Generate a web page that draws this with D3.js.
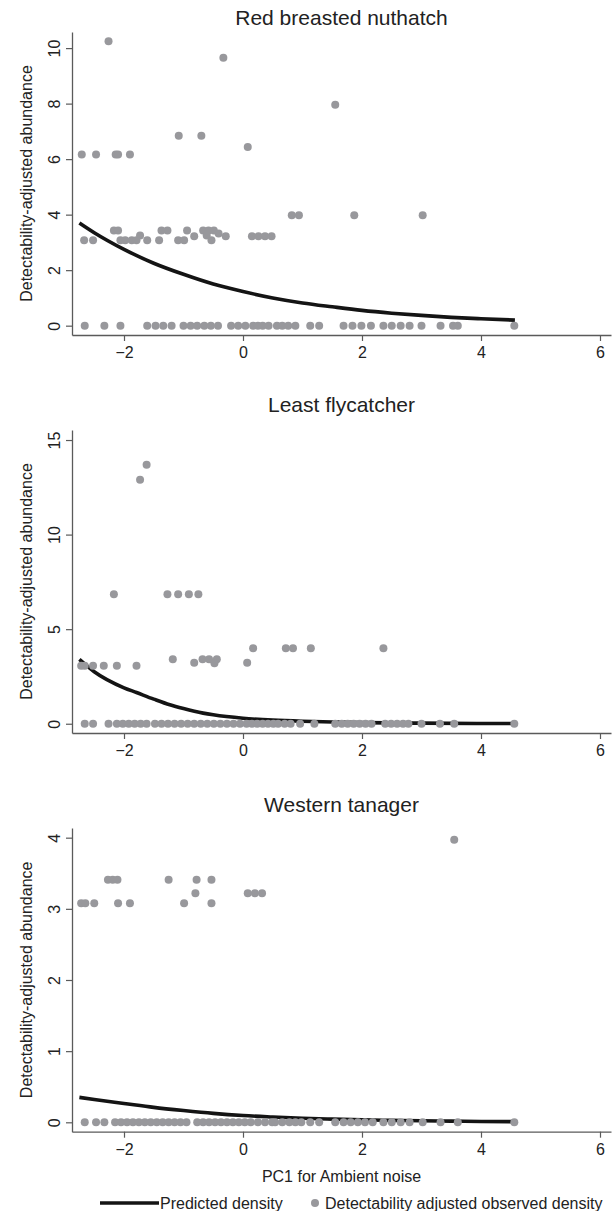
<!DOCTYPE html>
<html>
<head>
<meta charset="utf-8">
<script src="https://cdn.jsdelivr.net/npm/d3@7"></script>
<style>
    body { margin: 0; background: #fff; }
    svg { display: block; font-family: "Liberation Sans", Arial, sans-serif; }
</style>
</head>
<body>
<div class="chart"></div>
<script>
const xTicks = [-2, 0, 2, 4, 6];
const xTitle = "PC1 for Ambient noise";
const yTitle = "Detectability-adjusted abundance";
const legendLabels = ["Predicted density", "Detectability adjusted observed density"];

// Red breasted nuthatch
const nuthatchZeros = [-2.66, -2.33, -2.06, -1.61, -1.47, -1.34, -1.2, -1.0, -0.88, -0.77, -0.65, -0.54, -0.42,
    -0.2, -0.08, 0.04, 0.17, 0.25, 0.33, 0.43, 0.57, 0.66, 0.76, 0.88, 1.13, 1.28, 1.69, 1.84, 1.99, 2.15,
    2.36, 2.5, 2.65, 2.8, 3.0, 3.32, 3.53, 3.61, 4.56];
const nuthatchObs = [[-2.26, 10.25], [-0.33, 9.65], [1.55, 7.96], [-1.08, 6.84], [-0.7, 6.84], [0.08, 6.44],
    [-2.71, 6.17], [-2.47, 6.17], [-2.14, 6.17], [-2.1, 6.17], [-1.9, 6.17],
    [0.82, 3.98], [0.94, 3.98], [1.87, 3.98], [3.02, 3.98],
    [-2.17, 3.43], [-2.1, 3.43], [-1.37, 3.43], [-1.27, 3.43], [-0.94, 3.43], [-0.67, 3.43], [-0.58, 3.43], [-0.49, 3.43],
    [-0.41, 3.32], [-1.73, 3.25], [-0.61, 3.25],
    [-0.82, 3.22], [-0.29, 3.22], [0.15, 3.22], [0.26, 3.22], [0.37, 3.22], [0.48, 3.22],
    [-2.67, 3.08], [-2.52, 3.08], [-2.06, 3.08], [-1.98, 3.08], [-1.87, 3.08], [-1.79, 3.08], [-1.61, 3.08],
    [-1.41, 3.08], [-1.09, 3.08], [-0.99, 3.08], [-0.53, 3.08]];
const nuthatchPred = [[-2.75, 3.7], [-2.5, 3.35], [-2, 2.75], [-1.5, 2.25], [-1, 1.85], [-0.5, 1.5], [0, 1.23],
    [0.5, 1.0], [1, 0.82], [1.5, 0.68], [2, 0.55], [2.5, 0.45], [3, 0.37], [3.5, 0.3], [4, 0.25], [4.57, 0.2]];

// Least flycatcher
const flycatcherZeros = [-2.66, -2.52, -2.26, -2.12, -2.02, -1.92, -1.82, -1.72, -1.62, -1.48, -1.37, -1.26, -1.15,
    -1.04, -0.93, -0.82, -0.71, -0.6, -0.49, -0.38, -0.27, -0.16, -0.05, 0.06, 0.15, 0.24, 0.33, 0.42, 0.51,
    0.59, 0.7, 0.8, 0.96, 1.2, 1.55, 1.66, 1.76, 1.86, 1.96, 2.06, 2.16, 2.39, 2.49, 2.59, 2.69, 2.78,
    3.0, 3.31, 3.55, 4.56];
const flycatcherObs = [[-1.62, 13.69], [-1.73, 12.9], [-2.17, 6.85], [-1.27, 6.85], [-1.09, 6.85], [-0.91, 6.85], [-0.75, 6.85],
    [-2.72, 3.07], [-2.66, 3.07], [-2.52, 3.07], [-2.34, 3.07], [-2.12, 3.07], [-1.79, 3.07],
    [-1.18, 3.41], [-0.82, 3.22], [-0.68, 3.41], [-0.57, 3.41], [-0.44, 3.41], [-0.48, 3.2], [0.07, 3.22],
    [0.17, 3.99], [0.72, 3.99], [0.84, 3.99], [1.14, 3.99], [2.36, 3.99]];
const flycatcherPred = [[-2.75, 3.4], [-2.5, 2.75], [-2, 1.9], [-1.79, 1.65], [-1.5, 1.3], [-1.23, 1.0], [-1, 0.8],
    [-0.67, 0.56], [-0.5, 0.47], [0, 0.29], [0.5, 0.19], [1, 0.13], [1.5, 0.09], [2, 0.06], [3, 0.03], [4, 0.015], [4.57, 0.01]];

// Western tanager
const tanagerZeros = [-2.66, -2.47, -2.33, -2.15, -2.05, -1.95, -1.85, -1.75, -1.65, -1.55, -1.45, -1.35, -1.25,
    -1.15, -1.05, -0.95, -0.77, -0.67, -0.57, -0.47, -0.37, -0.27, -0.17, -0.07, 0.03, 0.13, 0.25, 0.37, 0.49,
    0.54, 0.66, 0.78, 0.88, 0.98, 1.13, 1.28, 1.55, 1.69, 1.81, 1.93, 2.05, 2.18, 2.36, 2.5, 2.65, 2.8,
    3.02, 3.32, 3.61, 4.56];
const tanagerObs = [[-2.72, 3.08], [-2.65, 3.08], [-2.5, 3.08], [-2.27, 3.41], [-2.19, 3.41], [-2.11, 3.41],
    [-2.1, 3.08], [-1.9, 3.08], [-1.25, 3.41], [-0.99, 3.08], [-0.78, 3.41], [-0.8, 3.22], [-0.53, 3.41],
    [-0.53, 3.08], [0.08, 3.22], [0.2, 3.22], [0.32, 3.22], [3.55, 3.97]];
const tanagerPred = [[-2.75, 0.35], [-2.5, 0.32], [-2, 0.265], [-1.5, 0.21], [-1, 0.165], [-0.5, 0.125], [0, 0.095],
    [0.5, 0.075], [1, 0.058], [1.5, 0.045], [2, 0.035], [2.5, 0.027], [3, 0.021], [3.5, 0.016], [4, 0.012], [4.57, 0.009]];

const panels = [
    { title: "Red breasted nuthatch", zeros: nuthatchZeros, obs: nuthatchObs, pred: nuthatchPred,
      yTicks: [0, 2, 4, 6, 8, 10], yDomain: [-0.336, 10.58], top: 32, bottom: 335, titleY: 25 },
    { title: "Least flycatcher", zeros: flycatcherZeros, obs: flycatcherObs, pred: flycatcherPred,
      yTicks: [0, 5, 10, 15], yDomain: [-0.49, 15.53], top: 430, bottom: 733, titleY: 411.5 },
    { title: "Western tanager", zeros: tanagerZeros, obs: tanagerObs, pred: tanagerPred,
      yTicks: [0, 1, 2, 3, 4], yDomain: [-0.132, 4.136], top: 828, bottom: 1131.7, titleY: 811.5 }
];

const width = 616, height = 1211;
const left = 72, right = 611;
const dotColor = "#98989c", lineColor = "#141414", axisColor = "#5a5a5a", textColor = "#222";
const fmt = d3.format("d");

const svg = d3.select(".chart").append("svg")
    .attr("width", width)
    .attr("height", height);

const x = d3.scaleLinear().domain([-2.874, 6.185]).range([left, right]);

panels.forEach((p, i) => {
    const y = d3.scaleLinear().domain(p.yDomain).range([p.bottom, p.top]);
    const g = svg.append("g");

    // title
    g.append("text")
        .attr("x", (left + right) / 2)
        .attr("y", p.titleY)
        .attr("text-anchor", "middle")
        .attr("fill", textColor)
        .style("font-size", "21px")
        .text(p.title);

    // x axis
    const xAxis = g.append("g")
        .attr("transform", `translate(0,${p.bottom})`)
        .call(d3.axisBottom(x).tickValues(xTicks).tickFormat(fmt).tickSize(6).tickSizeOuter(0));
    xAxis.select(".domain").attr("stroke", axisColor).attr("stroke-width", 1.3);
    xAxis.selectAll(".tick line").attr("stroke", axisColor).attr("stroke-width", 1.2);
    xAxis.selectAll(".tick text")
        .attr("y", 23).attr("dy", 0)
        .attr("fill", textColor)
        .style("font-size", "16px")
        .style("font-family", "'Liberation Sans', Arial, sans-serif");

    // y axis
    const yAxis = g.append("g")
        .attr("transform", `translate(${left},0)`)
        .call(d3.axisLeft(y).tickValues(p.yTicks).tickFormat(fmt).tickSize(6).tickSizeOuter(0));
    yAxis.select(".domain").attr("stroke", axisColor).attr("stroke-width", 1.3);
    yAxis.selectAll(".tick line").attr("stroke", axisColor).attr("stroke-width", 1.2);
    yAxis.selectAll(".tick text")
        .attr("transform", "rotate(-90)")
        .attr("x", 0).attr("y", -12).attr("dy", 0)
        .attr("text-anchor", "middle")
        .attr("fill", textColor)
        .style("font-size", "16px")
        .style("font-family", "'Liberation Sans', Arial, sans-serif");

    // y title
    g.append("text")
        .attr("transform", `translate(32,${(p.top + p.bottom) / 2}) rotate(-90)`)
        .attr("text-anchor", "middle")
        .attr("fill", textColor)
        .style("font-size", "16px")
        .text(yTitle);

    // predicted curve
    const line = d3.line()
        .x(d => x(d[0]))
        .y(d => y(d[1]))
        .curve(d3.curveMonotoneX);

    g.append("path")
        .datum(p.pred)
        .attr("d", line)
        .attr("fill", "none")
        .attr("stroke", lineColor)
        .attr("stroke-width", 3.6);

    // observed points
    const pts = p.zeros.map(v => [v, 0]).concat(p.obs);
    g.append("g")
        .selectAll("circle")
        .data(pts)
        .join("circle")
        .attr("cx", d => x(d[0]))
        .attr("cy", d => y(d[1]))
        .attr("r", 4)
        .attr("fill", dotColor);

    // x title only on last panel
    if (i === panels.length - 1) {
        g.append("text")
            .attr("x", (left + right) / 2)
            .attr("y", p.bottom + 50)
            .attr("text-anchor", "middle")
            .attr("fill", textColor)
            .style("font-size", "16px")
            .text(xTitle);
    }
});

// Legend
const legend = svg.append("g").attr("transform", "translate(0,1203)");
legend.append("line")
    .attr("x1", 100).attr("x2", 159)
    .attr("y1", 0).attr("y2", 0)
    .attr("stroke", lineColor)
    .attr("stroke-width", 3.6);
legend.append("text")
    .attr("x", 160).attr("y", 5.5)
    .attr("fill", textColor)
    .style("font-size", "16px")
    .text(legendLabels[0]);
legend.append("circle")
    .attr("cx", 315).attr("cy", 0)
    .attr("r", 4)
    .attr("fill", dotColor);
legend.append("text")
    .attr("x", 325).attr("y", 5.5)
    .attr("fill", textColor)
    .style("font-size", "16px")
    .text(legendLabels[1]);
</script>
</body>
</html>
